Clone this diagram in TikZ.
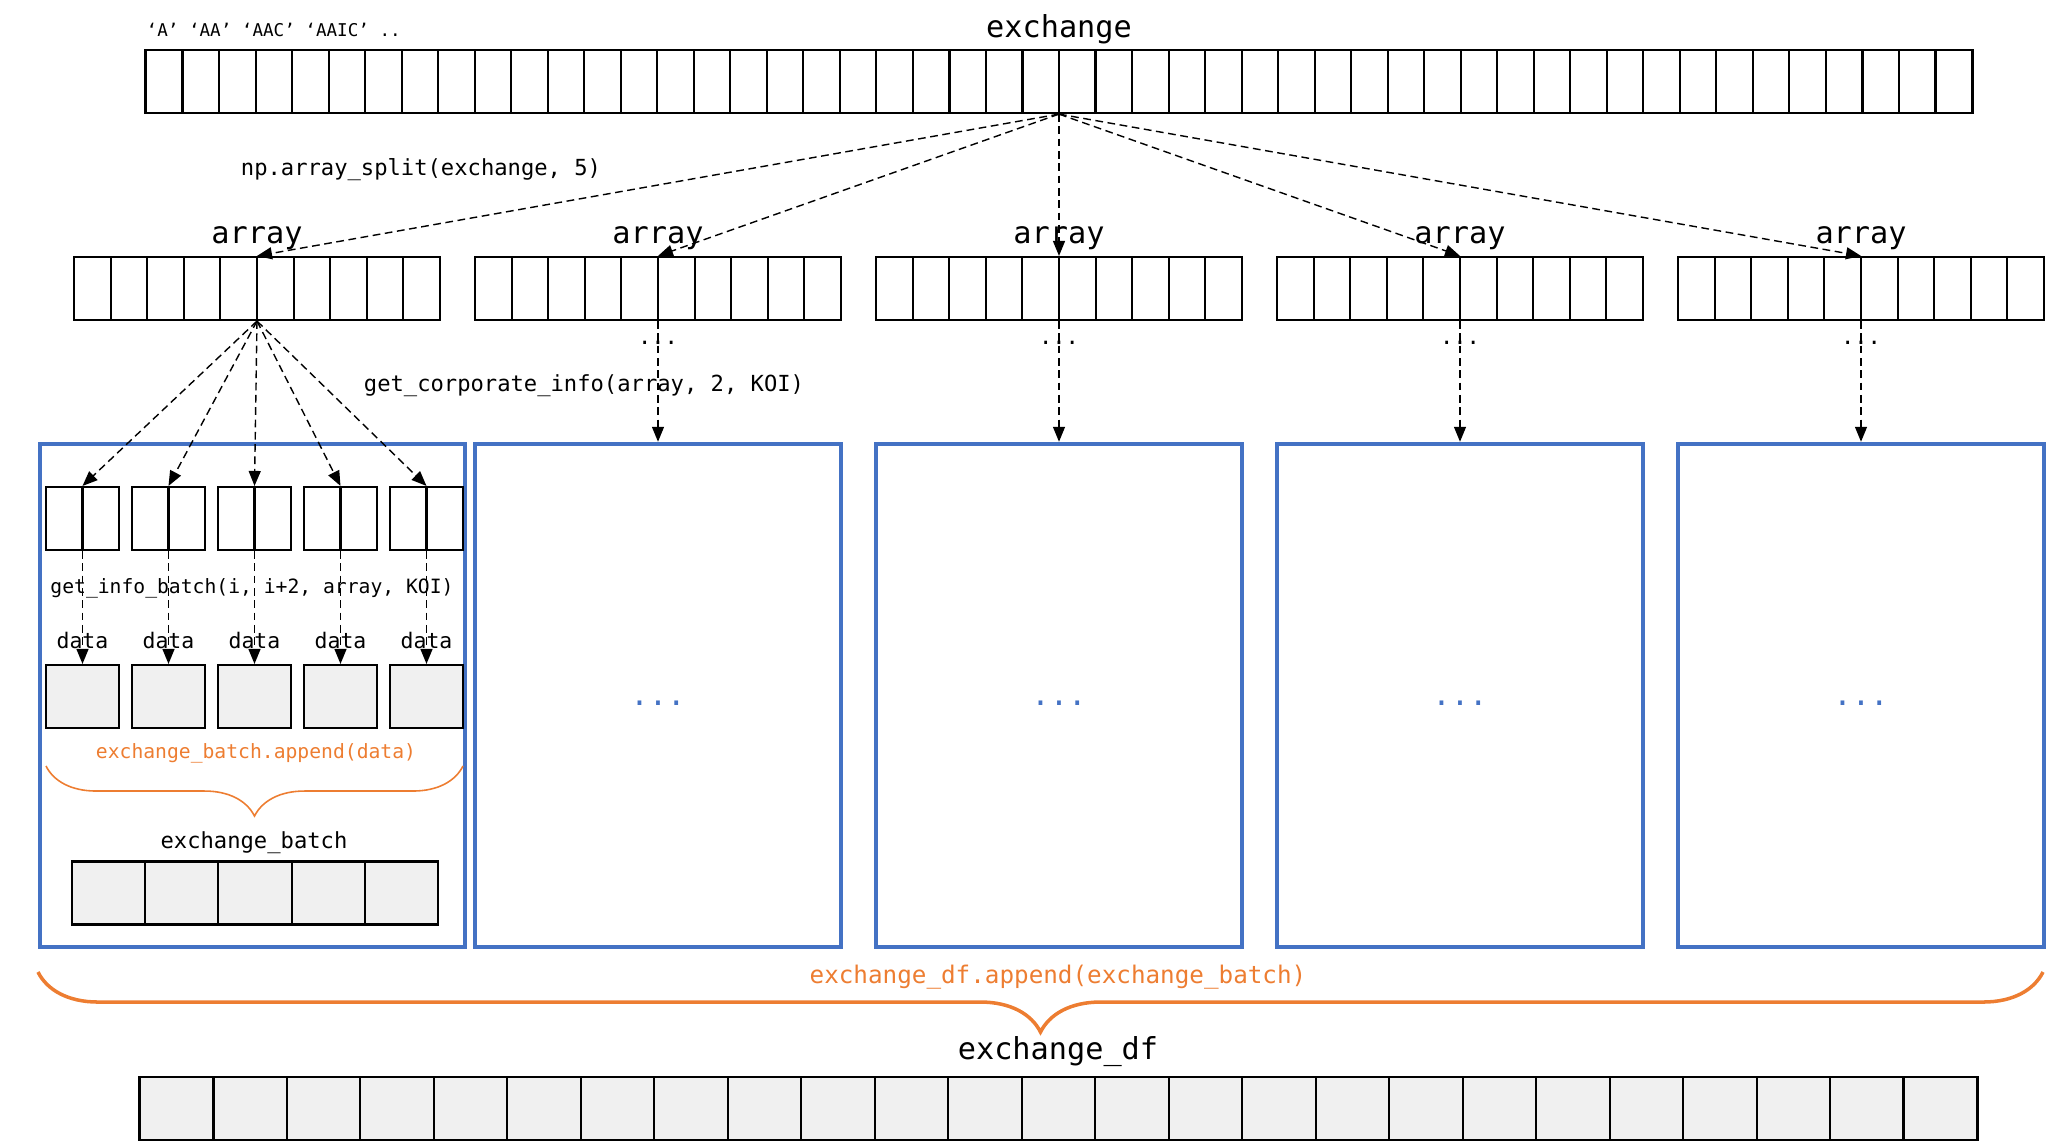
\documentclass[tikz,border=0pt]{standalone}
\usepackage{fontspec}
\newfontfamily\codefont{DejaVu Sans Mono}
\usetikzlibrary{arrows.meta,decorations.pathreplacing}
\definecolor{workerblue}{HTML}{4472C4}
\definecolor{appendorange}{HTML}{ED7D31}
\definecolor{cellgray}{HTML}{F0F0F0}
\tikzset{
  slots/.style={draw, line width=0.6pt, minimum height=0.63cm, inner sep=0pt},
  filledslots/.style={slots, fill=cellgray},
  worker/.style={draw=workerblue, line width=1.2pt, minimum height=5.03cm, inner sep=0pt},
  bigtext/.style={font=\codefont\fontsize{8.6}{10}\selectfont, inner sep=0pt},
  midtext/.style={font=\codefont\fontsize{6.3}{8}\selectfont, inner sep=0pt},
  smalltext/.style={font=\codefont\fontsize{5.6}{7}\selectfont, inner sep=0pt},
  call/.style={line width=0.4pt, dash pattern=on 2.2pt off 1.3pt, -{Triangle[length=0.15cm,width=0.12cm]}},
  appendbrace/.style={draw=appendorange, decorate, decoration={brace, mirror, amplitude=#1}}
}
\begin{document}
\begin{tikzpicture}[x=0.01cm, y=-0.01cm]
    \useasboundingbox (0,0) rectangle (2048,1144);
    % source list
    \node[font=\codefont\fontsize{5}{6}\selectfont, inner sep=0pt, anchor=west] (symbols) at (146,30) {‘A’ ‘AA’ ‘AAC’ ‘AAIC’ ..};
    \node[bigtext] (exlabel) at (1059,29) {exchange};
    \node[slots, minimum width=18.26cm] (exchange) at (1059,81.5) {};
    \foreach \i in {1,...,49} \draw[line width=0.6pt] (146+36.52*\i,50) -- (146+36.52*\i,113);
    \node[midtext] (split) at (421,170) {np.array\_split(exchange, 5)};
    \node[midtext] (corp) at (584,386) {get\_corporate\_info(array, 2, KOI)};
    % split arrays and workers
    \node[worker, minimum width=4.25cm] (b1) at (252.5,695.5) {};
    \foreach \k/\cx in {1/257,2/658,3/1059,4/1460,5/1861} {
        \node[bigtext] (alabel\k) at (\cx,238) {array};
        \node[slots, minimum width=3.66cm] (a\k) at (\cx,288.5) {};
        \foreach \i in {1,...,9} \draw[line width=0.6pt] (\cx-183+36.6*\i,257) -- (\cx-183+36.6*\i,320);
        \draw[call] (exchange.south) -- (a\k.north);
    }
    \foreach \k/\cx in {2/658,3/1059,4/1460,5/1861} {
        \node[worker, minimum width=3.66cm] (b\k) at (\cx,695.5) {};
        \node[midtext] (dots\k) at (\cx,343) {...};
        \node[font=\codefont\fontsize{8.7}{10}\selectfont, text=workerblue, inner sep=0pt] (bdots\k) at (\cx,703) {...};
        \draw[call] (a\k.south) -- (b\k.north);
    }
    % first worker
    \node[smalltext] (batchcall) at (252,588) {get\_info\_batch(i, i+2, array, KOI)};
    \foreach \j/\sx in {1/82.5,2/168.5,3/254.5,4/340.5,5/426.5} {
        \node[slots, minimum width=0.73cm] (s\j) at (\sx,518.5) {};
        \draw[line width=0.6pt] (s\j.north) -- (s\j.south);
        \node[font=\codefont\fontsize{6.1}{7}\selectfont, inner sep=0pt] (dlabel\j) at (\sx,640) {data};
        \node[filledslots, minimum width=0.73cm] (d\j) at (\sx,696.5) {};
        \draw[call] (a1.south) -- (s\j.north);
        \draw[call] (s\j.south) -- (d\j.north);
    }
    \node[smalltext, text=appendorange] (batchappend) at (256,753) {exchange\_batch.append(data)};
    \draw[appendbrace=0.5cm, line width=0.45pt] (46,766) -- (463,766);
    \node[midtext] (batchlabel) at (254,843) {exchange\_batch};
    \node[filledslots, minimum width=3.66cm] (batch) at (255,893) {};
    \foreach \i in {1,...,4} \draw[line width=0.6pt] (72+73.2*\i,861) -- (72+73.2*\i,925);
    % result
    \draw[appendbrace=0.6cm, line width=1pt] (38,972) -- (2043,972);
    \node[font=\codefont\fontsize{6.9}{8}\selectfont, text=appendorange, inner sep=0pt] (dfappend) at (1058,977) {exchange\_df.append(exchange\_batch)};
    \node[bigtext] (dflabel) at (1058,1052) {exchange\_df};
    \node[filledslots, minimum width=18.37cm] (df) at (1058.5,1108.5) {};
    \foreach \i in {1,...,24} \draw[line width=0.6pt] (140+73.48*\i,1077) -- (140+73.48*\i,1140);
\end{tikzpicture}
\end{document}
